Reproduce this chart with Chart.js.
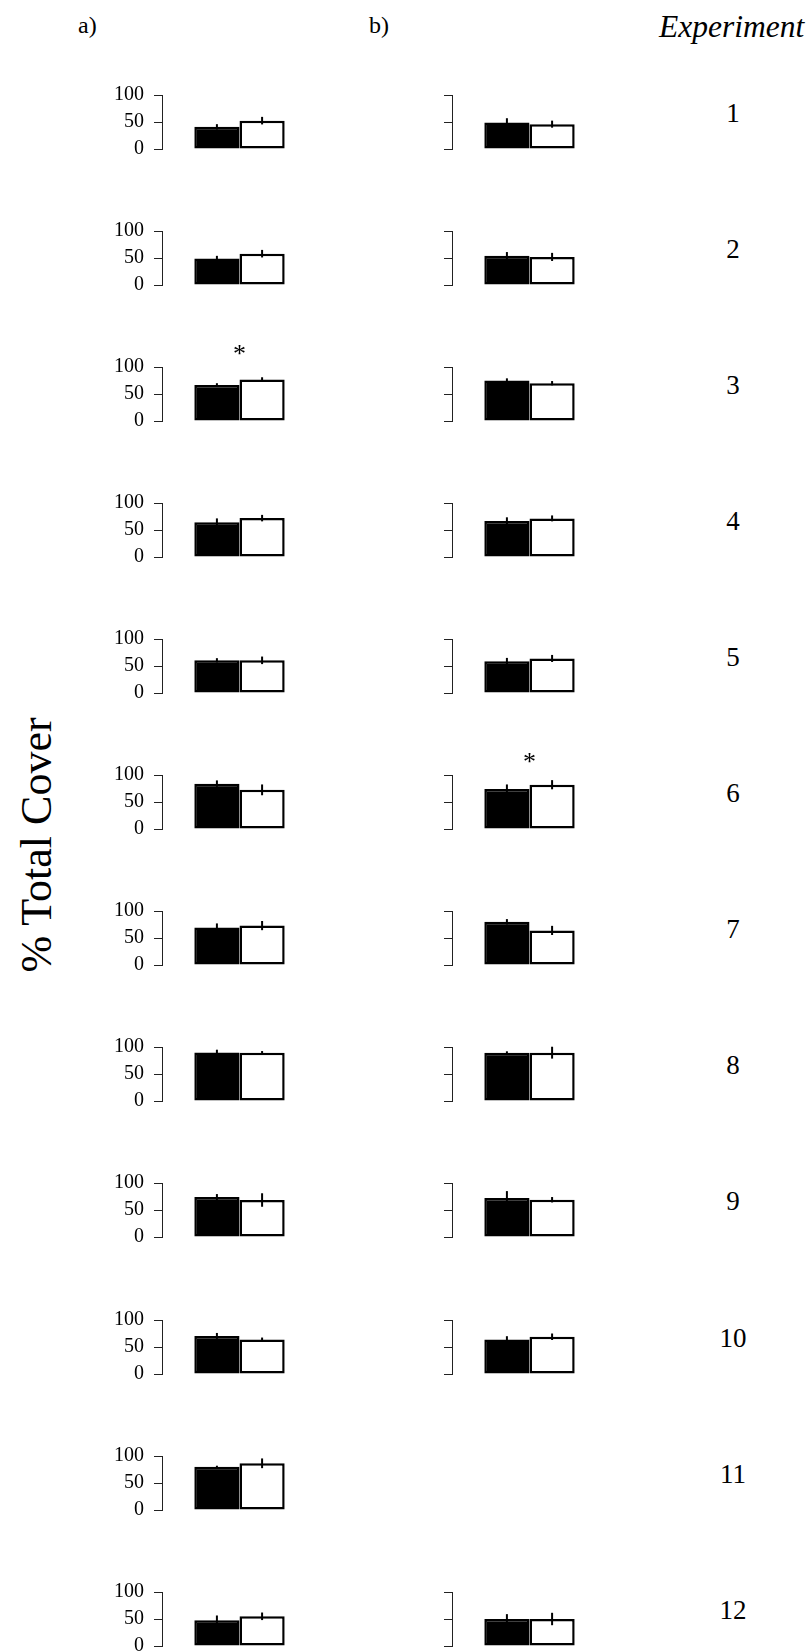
<!DOCTYPE html>
<html>
<head>
<meta charset="utf-8">
<script src="https://cdn.jsdelivr.net/npm/chart.js@4.4.0/dist/chart.umd.min.js"></script>
<style>
  body { margin: 0; background: #fff; }
  #page { position: relative; width: 811px; height: 1651px; font-family: "Liberation Serif", "Times New Roman", serif; color: #000; }
  .txt { position: absolute; white-space: nowrap; line-height: 1; }
  .panel { position: absolute; width: 215px; height: 108px; }
</style>
</head>
<body>
<div id="page">
  <div class="txt" style="left:78px; top:13px; font-size:24px;">a)</div>
  <div class="txt" style="left:369px; top:13px; font-size:24px;">b)</div>
  <div class="txt" style="left:659px; top:11px; font-size:31.5px; font-style:italic;">Experiment</div>
  <div class="txt" style="left:37px; top:845px; font-size:44px; transform: translate(-50%, -50%) rotate(-90deg);">% Total Cover</div>
</div>
<script>
// experiment numbers (rows)
const experiments = ['1', '2', '3', '4', '5', '6', '7', '8', '9', '10', '11', '12'];

// column a) means and errors
const blackA = [41, 49, 66.5, 64.5, 60.5, 84, 69.5, 90, 74, 70.5, 80, 47.5];
const blackAErr = [5, 5, 3.5, 7, 4, 6, 7.5, 5, 5.5, 5.5, 2, 9];
const whiteA = [52.5, 58, 77, 72, 60.5, 72.5, 73, 89.5, 68.5, 64, 86.5, 55];
const whiteAErr = [7, 7, 4, 6, 7, 10, 8.5, 3, 12.5, 3.5, 9, 7];

// column b) means and errors (no data for experiment 11)
const blackB = [49, 54, 75, 66.5, 59, 74, 80, 89.5, 72, 64, null, 50];
const blackBErr = [8, 7, 4, 7, 6, 8.5, 5, 2.5, 13, 6, null, 9];
const whiteB = [46, 52, 70, 71.5, 64, 82, 64, 89.5, 69, 69, null, 50];
const whiteBErr = [6.5, 7.5, 4, 5.5, 6.5, 8.5, 8.5, 11, 5, 6, null, 11.5];

// significant differences
const sigA = ['3'];
const sigB = ['6'];

const yTicks = [0, 50, 100];

// error bars + star drawn with the chart's own scales
const errorBars = {
    id: 'errorBars',
    afterDatasetsDraw(chart) {
        const ctx = chart.ctx;
        const y = chart.scales.y;
        ctx.save();
        ctx.strokeStyle = '#000';
        ctx.lineWidth = 2;
        chart.data.datasets.forEach((ds, i) => {
            const bar = chart.getDatasetMeta(i).data[0];
            const v = ds.data[0], e = ds.err;
            ctx.beginPath();
            ctx.moveTo(bar.x, y.getPixelForValue(v - e));
            ctx.lineTo(bar.x, y.getPixelForValue(v + e));
            ctx.stroke();
        });
        if (chart.options.plugins.errorBars.star) {
            const x = chart.scales.x.getPixelForValue(0);
            ctx.fillStyle = '#000';
            ctx.font = '26px "Liberation Serif"';
            ctx.textAlign = 'center';
            ctx.textBaseline = 'middle';
            ctx.fillText('*', x, y.getPixelForValue(100) - 12);
        }
        ctx.restore();
    }
};

const page = document.getElementById('page');

function makePanel(left, top, black, blackErr, white, whiteErr, showLabels, star) {
    const box = document.createElement('div');
    box.className = 'panel';
    box.style.left = left + 'px';
    box.style.top = top + 'px';
    const canvas = document.createElement('canvas');
    box.appendChild(canvas);
    page.appendChild(box);

    new Chart(canvas, {
        type: 'bar',
        data: {
            labels: [''],
            datasets: [
                { data: [black], err: blackErr, backgroundColor: '#000', borderColor: '#000', borderWidth: 2.5, borderSkipped: false },
                { data: [white], err: whiteErr, backgroundColor: '#fff', borderColor: '#000', borderWidth: 2.5, borderSkipped: false }
            ]
        },
        options: {
            responsive: true,
            maintainAspectRatio: false,
            animation: false,
            events: [],
            layout: { padding: { top: 30, bottom: 24, left: 0, right: 0 } },
            categoryPercentage: 0.583,
            barPercentage: 1,
            plugins: { legend: { display: false }, tooltip: { enabled: false }, errorBars: { star: star } },
            scales: {
                x: { display: false, offset: true },
                y: {
                    min: 0, max: 100,
                    afterBuildTicks: (s) => { s.ticks = yTicks.map(v => ({ value: v })); },
                    afterFit: (s) => { s.width = 60; },
                    border: { display: true, color: '#222', width: 1 },
                    grid: { drawOnChartArea: false, drawTicks: true, tickLength: 8, color: '#222', lineWidth: 1 },
                    ticks: {
                        padding: 10,
                        color: showLabels ? '#000' : 'transparent',
                        font: { family: 'Liberation Serif', size: 20 }
                    }
                }
            }
        },
        plugins: [errorBars]
    });
}

function addText(txt, x, y, size) {
    const d = document.createElement('div');
    d.className = 'txt';
    d.textContent = txt;
    d.style.left = x + 'px';
    d.style.top = y + 'px';
    d.style.fontSize = size + 'px';
    d.style.transform = 'translate(-50%, -50%)';
    page.appendChild(d);
}

experiments.forEach((name, i) => {
    const y0 = 149 + i * 136.06;
    const top = Math.round(y0 - 84);
    makePanel(102, top, blackA[i], blackAErr[i], whiteA[i], whiteAErr[i], true, sigA.includes(name));
    if (blackB[i] !== null) {
        makePanel(392, top, blackB[i], blackBErr[i], whiteB[i], whiteBErr[i], false, sigB.includes(name));
    }
    addText(name, 733, y0 - 36, 27);
});
</script>
</body>
</html>
